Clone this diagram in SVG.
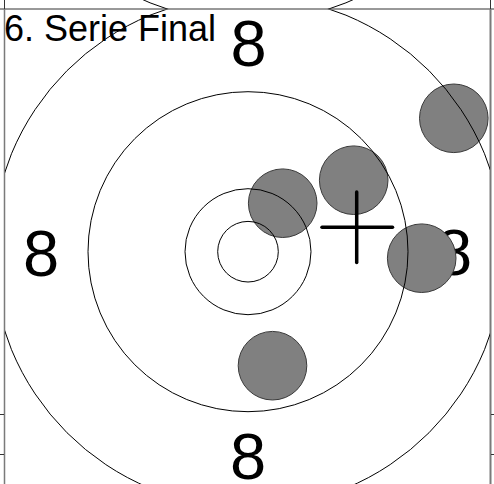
<svg xmlns="http://www.w3.org/2000/svg" width="494" height="484" viewBox="0 0 494 484">
  <style>
    .ring { fill: none; stroke: #000; stroke-width: 1; }
    .shot { fill: #808080; stroke: #3a3a3a; stroke-width: 1; }
    .num { font-family: "Liberation Sans", Arial, sans-serif; font-size: 65px; fill: #000; text-anchor: middle; }
    .title { font-family: "Liberation Sans", Arial, sans-serif; font-size: 36px; fill: #000; }
    .frame { stroke: #333; stroke-width: 1; fill: none; }
    .side { stroke: #7a7a7a; stroke-width: 2; fill: none; }
  </style>
  <defs>
    <clipPath id="panel"><rect x="5" y="9.5" width="485" height="475"/></clipPath>
    <clipPath id="above"><rect x="5" y="0" width="485" height="9"/></clipPath>
  </defs>
  <rect width="494" height="484" fill="#fff"/>

  <g id="neighbour-above" clip-path="url(#above)">
    <circle class="ring" cx="248" cy="-233.7" r="256"/>
  </g>

  <g id="frame">
    <line class="frame" x1="0" y1="9" x2="494" y2="9"/>
    <line class="frame" x1="4.5" y1="0" x2="4.5" y2="9"/>
    <line class="frame" x1="490.5" y1="0" x2="490.5" y2="9"/>
    <line class="side" x1="4.5" y1="9" x2="4.5" y2="484" style="stroke-width:1.5"/>
    <line class="side" x1="490.5" y1="9" x2="490.5" y2="484"/>
    <line class="frame" x1="0" y1="414.5" x2="4" y2="414.5"/>
    <line class="frame" x1="0" y1="454.5" x2="4" y2="454.5"/>
    <line class="frame" x1="491" y1="414.5" x2="494" y2="414.5"/>
    <line class="frame" x1="491" y1="454.5" x2="494" y2="454.5"/>
  </g>

  <g id="title"><text class="title" x="4" y="41">6. Serie Final</text></g>

  <g id="labels">
    <text id="label-top" class="num" x="248.5" y="66">8</text>
    <text id="label-left" class="num" x="41" y="276">8</text>
    <text id="label-right" class="num" x="454" y="275">8</text>
    <text id="label-bottom" class="num" x="248" y="478.5">8</text>
  </g>

  <g id="shots">
    <circle id="shot-1" class="shot" cx="453.8" cy="118.3" r="34.3"/>
    <circle id="shot-2" class="shot" cx="282.7" cy="203.2" r="34.3"/>
    <circle id="shot-3" class="shot" cx="353.7" cy="180.2" r="34.3"/>
    <circle id="shot-4" class="shot" cx="421.7" cy="258.2" r="34.3"/>
    <circle id="shot-5" class="shot" cx="272.5" cy="365.7" r="34.3"/>
  </g>

  <g id="target" clip-path="url(#panel)">
    <circle class="ring" cx="248" cy="251.7" r="256"/>
    <circle class="ring" cx="248" cy="251.7" r="160"/>
    <circle class="ring" cx="248" cy="251.7" r="63"/>
    <circle class="ring" cx="248" cy="251.7" r="30.3"/>
  </g>

  <g id="centre-mark" stroke="#000" stroke-width="3.5" stroke-linecap="round">
    <line x1="356.7" y1="192" x2="356.7" y2="262.5"/>
    <line x1="322" y1="227.3" x2="392.5" y2="227.3"/>
  </g>
</svg>
